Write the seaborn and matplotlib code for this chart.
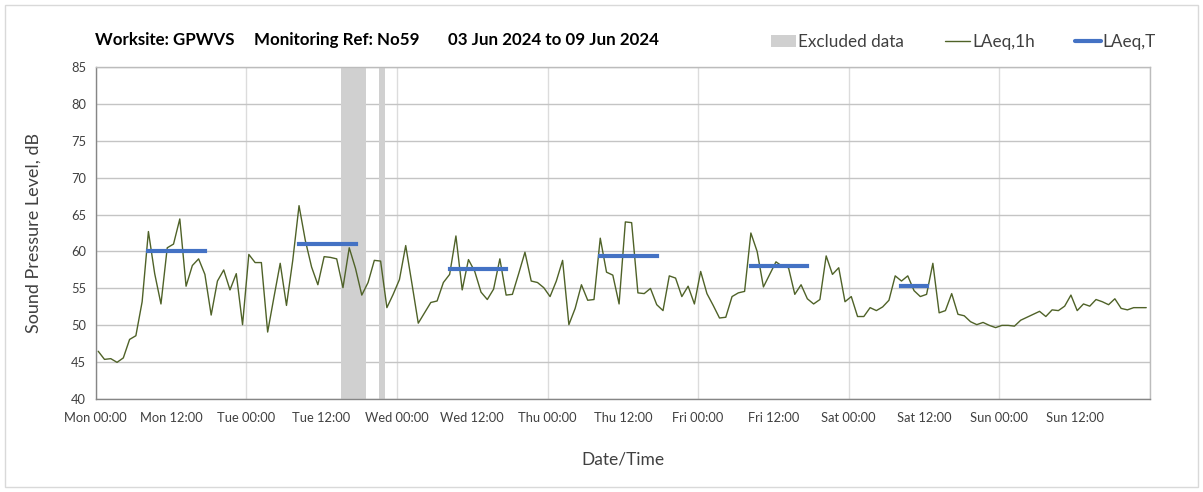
import numpy as np
import pandas as pd
import matplotlib
matplotlib.use("Agg")
import matplotlib.pyplot as plt
import matplotlib.dates as mdates
from matplotlib.patches import Patch, Rectangle
from matplotlib.lines import Line2D
import seaborn as sns

# ---------------- data ----------------
series_start = "2024-06-03 00:24"
laeq_1h = [
    # Mon
    46.5, 45.4, 45.5, 45.0, 45.6, 48.1, 48.6, 53.2, 62.7, 57.0, 52.9, 60.5,
    61.0, 64.4, 55.3, 58.1, 59.0, 56.9, 51.4, 56.0, 57.5, 54.8, 57.0, 50.1,
    # Tue
    59.6, 58.5, 58.5, 49.1, 53.8, 58.4, 52.7, 58.8, 66.2, 61.5, 57.9, 55.5,
    59.3, 59.2, 59.0, 55.1, 60.5, 57.7, 54.1, 55.8, 58.8, 58.7, 52.4, 54.2,
    # Wed
    56.2, 60.8, 55.6, 50.3, 51.7, 53.1, 53.3, 55.8, 56.9, 62.1, 54.8, 58.9,
    57.3, 54.5, 53.5, 54.9, 59.0, 54.1, 54.2, 57.0, 59.9, 56.0, 55.8, 55.1,
    # Thu
    53.9, 56.0, 58.8, 50.1, 52.3, 55.5, 53.4, 53.5, 61.8, 57.2, 56.8, 52.9,
    64.0, 63.9, 54.4, 54.3, 55.0, 52.8, 52.0, 56.7, 56.4, 53.9, 55.3, 52.9,
    # Fri
    57.3, 54.3, 52.7, 51.0, 51.1, 53.9, 54.4, 54.6, 62.5, 60.0, 55.2, 56.9,
    58.6, 58.0, 57.8, 54.2, 55.5, 53.6, 52.9, 53.5, 59.4, 56.9, 57.8, 53.2,
    # Sat
    53.9, 51.2, 51.2, 52.4, 52.0, 52.5, 53.4, 56.7, 56.0, 56.7, 54.7, 53.9,
    54.2, 58.4, 51.7, 52.0, 54.3, 51.5, 51.3, 50.5, 50.1, 50.4, 50.0, 49.7,
    # Sun
    50.0, 50.0, 49.9, 50.7, 51.1, 51.5, 51.9, 51.2, 52.1, 52.0, 52.6, 54.1,
    52.0, 52.9, 52.6, 53.5, 53.2, 52.8, 53.6, 52.3, 52.1, 52.4, 52.4, 52.4,
]

period_start = ["2024-06-03 08:24", "2024-06-04 08:24", "2024-06-05 08:24",
                "2024-06-06 08:24", "2024-06-07 08:24", "2024-06-08 08:24"]
period_end = ["2024-06-03 17:24", "2024-06-04 17:24", "2024-06-05 17:24",
              "2024-06-06 17:24", "2024-06-07 17:24", "2024-06-08 12:24"]
period_level = [60.0, 61.05, 57.6, 59.45, 58.0, 55.3]

excl_start = ["2024-06-04 15:05", "2024-06-04 21:09"]
excl_end = ["2024-06-04 19:00", "2024-06-04 22:03"]

x_min, x_max = "2024-06-03 00:00", "2024-06-10 00:00"
y_ticks = [40, 45, 50, 55, 60, 65, 70, 75, 80, 85]

title_parts = ["Worksite: GPWVS", "Monitoring Ref: No59", "03 Jun 2024 to 09 Jun 2024"]

# ---------------- frames ----------------
df = pd.DataFrame({
    "time": pd.date_range(series_start, periods=len(laeq_1h), freq="h"),
    "level": laeq_1h,
})
rows = []
for k, (s, e, v) in enumerate(zip(period_start, period_end, period_level)):
    rows.append({"period": k, "time": pd.Timestamp(s), "level": v})
    rows.append({"period": k, "time": pd.Timestamp(e), "level": v})
dfp = pd.DataFrame(rows)

# ---------------- style ----------------
sns.set_theme(style="white")
plt.rcParams["font.family"] = ["Lato", "DejaVu Sans"]

OLIVE = "#4f6228"
BLUE = "#4472c4"
GREY_BAND = "#d0d0d0"
GRID_H = "#c4c4c4"
GRID_V = "#dcdcdc"
TXT = "#404040"

fig = plt.figure(figsize=(12.03, 4.92), dpi=100)
fig.patch.set_facecolor("white")
fig.add_artist(Rectangle((5 / 1203, 5 / 492), 1193 / 1203, 482 / 492,
                         transform=fig.transFigure, fill=False,
                         edgecolor="#d9d9d9", linewidth=1))

ax = fig.add_axes([95.7 / 1203, 1 - 399.3 / 492, (1150 - 95.7) / 1203, (399.3 - 66.7) / 492])

# excluded data bands
for s, e in zip(excl_start, excl_end):
    ax.axvspan(pd.Timestamp(s), pd.Timestamp(e), color=GREY_BAND, lw=0, zorder=1)

sns.lineplot(data=df, x="time", y="level", ax=ax, color=OLIVE, linewidth=1.0,
             zorder=3, legend=False)
sns.lineplot(data=dfp, x="time", y="level", units="period", estimator=None,
             ax=ax, color=BLUE, linewidth=3.0, zorder=4, legend=False,
             solid_capstyle="projecting")

ax.set_xlim(pd.Timestamp(x_min), pd.Timestamp(x_max))
ax.set_ylim(40, 85)
ax.set_yticks(y_ticks)

ax.xaxis.set_major_locator(mdates.HourLocator(byhour=[0, 12]))
_fmt = mdates.DateFormatter("%a %H:%M")
_xmax_num = mdates.date2num(pd.Timestamp(x_max))
ax.xaxis.set_major_formatter(
    matplotlib.ticker.FuncFormatter(lambda v, p: "" if v >= _xmax_num - 1e-6 else _fmt(v, p)))
ax.xaxis.set_minor_locator(mdates.DayLocator())
ax.xaxis.remove_overlapping_locs = False

ax.grid(axis="y", which="major", color=GRID_H, linewidth=1.0, zorder=0)
ax.grid(axis="x", which="minor", color=GRID_V, linewidth=1.0, zorder=0)
ax.grid(axis="x", which="major", visible=False)
ax.set_axisbelow(True)

ax.tick_params(axis="x", which="major", direction="out", length=5, width=1,
               color="#868686", labelsize=9.3, labelcolor=TXT, pad=4)
ax.tick_params(axis="x", which="minor", length=0)
ax.tick_params(axis="y", which="major", direction="out", length=4, width=1,
               color="#868686", labelsize=9.3, labelcolor=TXT, pad=3)

for side in ["left", "bottom"]:
    ax.spines[side].set_color("#868686")
    ax.spines[side].set_linewidth(1.0)
for side in ["top", "right"]:
    ax.spines[side].set_color("#bcbcbc")
    ax.spines[side].set_linewidth(1.0)

ax.set_xlabel("Date/Time", fontsize=12.5, color=TXT, labelpad=20)
ax.set_ylabel("Sound Pressure Level, dB", fontsize=13, color=TXT, labelpad=21)

# title pieces placed at the reference's left edges
title_x = [95, 254, 448]
for tx, part in zip(title_x, title_parts):
    fig.text(tx / 1203, 1 - 40 / 492, part, fontsize=12.2, fontweight="bold",
             color="black", ha="left", va="center")

handles = [Patch(facecolor=GREY_BAND, edgecolor="none"),
           Line2D([], [], color=OLIVE, linewidth=1.0),
           Line2D([], [], color=BLUE, linewidth=3.0)]
labels = ["Excluded data", "LAeq,1h", "LAeq,T"]
fig.legend(handles, labels, loc="center right",
           bbox_to_anchor=(1156 / 1203, 1 - 42 / 492), ncol=3, frameon=False,
           fontsize=12.3, handlelength=1.5, handleheight=0.7, handletextpad=0.12,
           columnspacing=2.35, labelcolor=TXT, borderaxespad=0, borderpad=0)

fig.savefig("out.png", dpi=100, facecolor="white")
